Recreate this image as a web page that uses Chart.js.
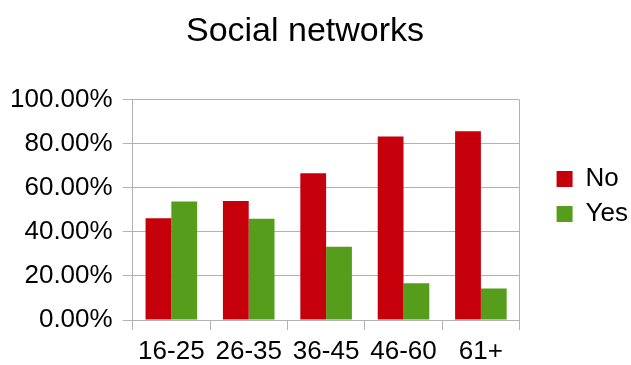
<!DOCTYPE html>
<html>
<head>
<meta charset="utf-8">
<script src="https://cdn.jsdelivr.net/npm/chart.js@4.4.1/dist/chart.umd.min.js"></script>
<style>
  html, body { margin: 0; padding: 0; background: #ffffff; }
  #wrap { width: 631px; height: 365px; position: relative; }
</style>
</head>
<body>
<div id="wrap"><canvas id="chart" width="631" height="365"></canvas></div>
<script>
// Share of respondents using social networks, by age group (percent)
const categories = ['16-25', '26-35', '36-45', '46-60', '61+'];
const noValues  = [46.2, 54.0, 66.7, 83.3, 85.7];
const yesValues = [53.8, 46.0, 33.3, 16.7, 14.3];
const seriesNames = ['No', 'Yes'];
const yTicks = [0, 20, 40, 60, 80, 100];

const RED = '#c5000b';
const GREEN = '#579d1c';
const GRID = '#b3b3b3';
const FONT = 'Liberation Sans, Arial, sans-serif';

// Legend column sits a little away from the plot, level with the bars
const legendPlacement = {
  id: 'legendPlacement',
  afterLayout(chart) {
    const lg = chart.legend;
    if (!lg) return;
    lg.left += 28;
    lg.right += 28;
    lg.top = 28;
  }
};

// Closes the plot frame on the right-hand side
const plotFrame = {
  id: 'plotFrame',
  beforeDatasetsDraw(chart) {
    const { ctx, chartArea: a } = chart;
    const x = Math.round(a.right) - 0.5;
    ctx.save();
    ctx.strokeStyle = GRID;
    ctx.lineWidth = 1;
    ctx.beginPath();
    ctx.moveTo(x, Math.round(a.top));
    ctx.lineTo(x, Math.round(a.bottom));
    ctx.stroke();
    ctx.restore();
  }
};

new Chart(document.getElementById('chart'), {
  type: 'bar',
  data: {
    labels: categories,
    datasets: [
      { label: seriesNames[0], data: noValues, backgroundColor: RED, borderWidth: 0,
        categoryPercentage: 2 / 3, barPercentage: 1 },
      { label: seriesNames[1], data: yesValues, backgroundColor: GREEN, borderWidth: 0,
        categoryPercentage: 2 / 3, barPercentage: 1 }
    ]
  },
  options: {
    responsive: false,
    animation: false,
    devicePixelRatio: 1,
    layout: { padding: { left: 0, right: 21, top: 0, bottom: 0 } },
    plugins: {
      title: {
        display: true,
        text: 'Social networks',
        color: '#000000',
        font: { family: FONT, size: 34, weight: 'normal', lineHeight: 1.2 },
        padding: { top: 11, bottom: 48 }
      },
      legend: {
        display: true,
        position: 'right',
        align: 'center',
        labels: {
          color: '#000000',
          font: { family: FONT, size: 26 },
          boxWidth: 16,
          boxHeight: 16,
          padding: 9
        }
      },
      tooltip: { enabled: false }
    },
    scales: {
      x: {
        type: 'category',
        position: 'bottom',
        grid: { display: true, drawOnChartArea: false, drawTicks: true, tickLength: 10,
                color: GRID, offset: true },
        border: { display: true, color: GRID, width: 1 },
        ticks: { color: '#000000', font: { family: FONT, size: 26, lineHeight: 1 },
                 padding: 9, maxRotation: 0, autoSkip: false },
        afterFit(scale) { scale.height = 45; }
      },
      y: {
        type: 'linear',
        position: 'left',
        min: 0,
        max: 100,
        afterBuildTicks(scale) { scale.ticks = yTicks.map(v => ({ value: v })); },
        grid: { display: true, drawOnChartArea: true, drawTicks: true, tickLength: 10, color: GRID },
        border: { display: true, color: GRID, width: 1 },
        ticks: {
          color: '#000000',
          font: { family: FONT, size: 26 },
          padding: 10,
          callback: (v) => Number(v).toFixed(2) + '%'
        }
      }
    }
  },
  plugins: [legendPlacement, plotFrame]
});
</script>
</body>
</html>
